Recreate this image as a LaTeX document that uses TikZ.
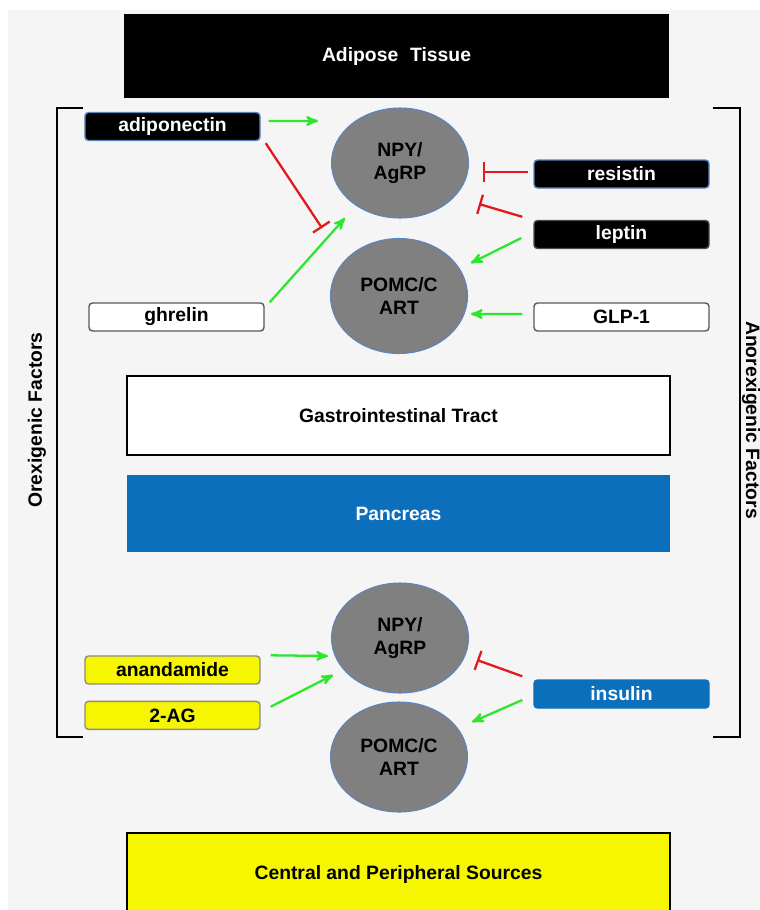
\documentclass[tikz,border=0pt]{standalone}
\usepackage{fontspec}
\setmainfont{Liberation Sans}
\usepackage{xcolor}
\usetikzlibrary{calc, positioning, arrows, arrows.meta, shapes}

\definecolor{bggray}{HTML}{F5F5F5}
\definecolor{pancblue}{HTML}{0B6FBC}
\definecolor{cellgray}{HTML}{808080}
\definecolor{cellline}{HTML}{5B85BE}
\definecolor{actgreen}{HTML}{2DE62D}
\definecolor{inhred}{HTML}{E2191E}
\definecolor{srcyellow}{HTML}{F6F600}

\begin{document}
\begin{tikzpicture}[x=0.2mm, y=-0.2mm, >=stealth', semithick, font=\fontsize{11}{13}\selectfont\bfseries]
			\tikzstyle{region}=[rectangle, draw=black, minimum width=108.6mm, minimum height=16mm, align=center]
			\tikzstyle{factor}=[rectangle, rounded corners=2pt, line width=0.8pt, minimum width=35mm, minimum height=5.6mm, inner sep=0pt]
			\tikzstyle{cell}=[ellipse, fill=cellgray, draw=cellline, line width=0.6pt, minimum width=27.4mm, minimum height=22mm, align=center, inner sep=0pt]
			\tikzstyle{act}=[->, draw=actgreen, line width=1.3pt]
			\tikzstyle{inh}=[-{Bar[width=4mm]}, draw=inhred, line width=1.3pt]
			\tikzstyle{bracket}=[draw=black, line width=1.4pt]

			\useasboundingbox (0,0) rectangle (760,910);
			\fill[bggray] (8,10) rectangle (760,910);

			% tissues
		    \node[region, fill=black, text=white, minimum height=16.4mm](adipose) at (396.5,56) {Adipose\,\, Tissue};
		    \node[region, fill=white, minimum height=15.8mm](gitract) at (398.5,415.5) {Gastrointestinal Tract};
		    \node[region, draw=none, fill=pancblue, text=white, minimum height=15.4mm](pancreas) at (398.5,513.5) {Pancreas};
		    \node[region, fill=srcyellow, minimum height=17.4mm](sources) at (398.5,876.5) {};
		    \node(sourcestext) at (398.5,874) {Central and Peripheral Sources};

			% neurons
		    \node[cell](npy-a) at (400,163) {NPY/\\AgRP};
		    \node[cell, minimum height=23mm](pomc-a) at (399,296) {POMC/C\\ART};
		    \node[cell](npy-b) at (400,638) {NPY/\\AgRP};
		    \node[cell](pomc-b) at (399,757) {POMC/C\\ART};

			% factors
		    \node[factor, fill=black, draw=cellline, text=white](adiponectin) at (172.5,126.5) {adiponectin};
		    \node[factor, fill=black, draw=cellline, text=white](resistin) at (621.5,174) {resistin};
		    \node[factor, fill=black, draw=black!70, text=white](leptin) at (621.5,234.5) {leptin};
		    \node[factor, fill=white, draw=black!65](ghrelin) at (176.5,317) {ghrelin};
		    \node[factor, fill=white, draw=black!65](glp) at (621.5,317) {GLP-1};
		    \node[factor, fill=srcyellow, draw=black!45](anandamide) at (172.5,670) {anandamide};
		    \node[factor, fill=srcyellow, draw=black!45](twoag) [below=3.2mm of anandamide] {2-AG};
		    \node[factor, fill=pancblue, draw=pancblue, text=white](insulin) at (621.5,694) {insulin};

			% brackets
		    \draw[bracket] (83,108) -- (57,108) -- (57,737) -- (83,737);
		    \draw[bracket] (713,108) -- (740,108) -- (740,737) -- (713,737);
		    \node[rotate=90](orexigenic) at (37,420) {Orexigenic Factors};
		    \node[rotate=-90, inner sep=1pt](anorexigenic) at (751,420) {Anorexigenic Factors};

			% free ends of the connectors
		    \coordinate (tip-adipo) at (318,121);
		    \coordinate (bar-adipo) at (322,228);
		    \coordinate (tip-ghrelin) at (345,218);
		    \coordinate (bar-resistin) at (483,172);
		    \coordinate (bar-leptin) at (479,204);
		    \coordinate (tip-leptin) at (471,263);
		    \coordinate (tip-glp) at (471,314);
		    \coordinate (tip-anandamide) at (328,656);
		    \coordinate (tip-twoag) at (333,675);
		    \coordinate (bar-insulin) at (477,660);
		    \coordinate (tip-insulin) at (472,722);

		    \draw[act] ([xshift=1.6mm,yshift=1.1mm]adiponectin.east) -- (tip-adipo);
		    \draw[inh] ([xshift=1mm,yshift=-0.4mm]adiponectin.south east) -- (bar-adipo);
		    \draw[act] ([xshift=1mm]ghrelin.north east) -- (tip-ghrelin);
		    \draw[inh] ([xshift=-1mm,yshift=0.4mm]resistin.west) -- (bar-resistin);
		    \draw[inh] ([xshift=-2.2mm,yshift=0.6mm]leptin.north west) -- (bar-leptin);
		    \draw[act] ([xshift=-2.4mm,yshift=-0.7mm]leptin.west) -- (tip-leptin);
		    \draw[act] ([xshift=-2.2mm,yshift=0.6mm]glp.west) -- (tip-glp);
		    \draw[act] ([xshift=2mm]anandamide.north east) -- (tip-anandamide);
		    \draw[act] ([xshift=2mm,yshift=-1.2mm]twoag.north east) -- (tip-twoag);
		    \draw[inh] ([xshift=-2.2mm,yshift=0.6mm]insulin.north west) -- (bar-insulin);
		    \draw[act] ([xshift=-2.2mm,yshift=-1.2mm]insulin.west) -- (tip-insulin);
\end{tikzpicture}
\end{document}
